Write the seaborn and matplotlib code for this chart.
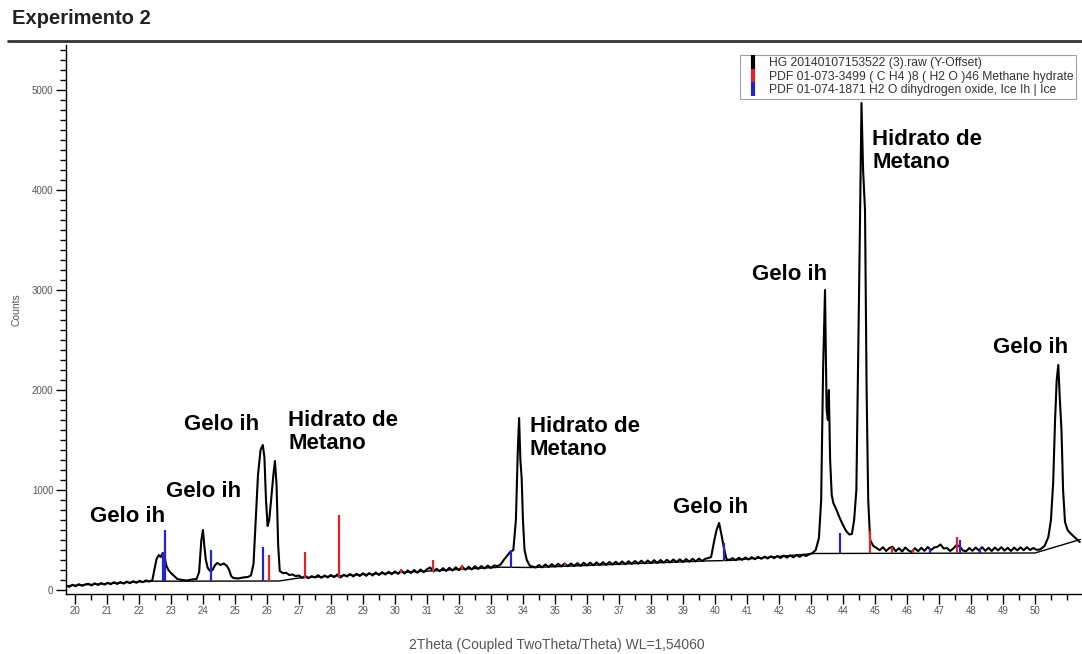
import numpy as np
import pandas as pd
import matplotlib
matplotlib.use("Agg")
import matplotlib.pyplot as plt
from matplotlib.lines import Line2D
from matplotlib.ticker import MultipleLocator
import seaborn as sns

# ---------------- data ----------------
# measured pattern, split into segments (2theta, counts)
theta_a = [19.72, 19.82, 19.92, 20.02, 20.12, 20.22, 20.32, 20.42, 20.52, 20.62, 20.72,
           20.82, 20.92, 21.02, 21.12, 21.22, 21.32, 21.42, 21.52, 21.62, 21.72, 21.82,
           21.92, 22.02, 22.12, 22.22, 22.32, 22.42]
counts_a = [45, 32, 52, 38, 58, 42, 56, 62, 46, 66, 50,
            70, 54, 72, 58, 78, 60, 80, 64, 84, 68, 88,
            72, 92, 78, 96, 84, 100]

theta_b = [22.48, 22.55, 22.62, 22.68, 22.74, 22.8, 22.86, 22.92, 23.0, 23.1, 23.2, 23.35,
           23.5, 23.65, 23.8, 23.88, 23.95, 24.0, 24.04, 24.09, 24.15, 24.22, 24.3, 24.38,
           24.45, 24.55, 24.65, 24.75, 24.82, 24.88, 24.95, 25.1, 25.25, 25.4, 25.5, 25.58,
           25.65, 25.72, 25.8, 25.87, 25.92, 25.97, 26.02, 26.07, 26.13, 26.2, 26.25, 26.3,
           26.35]
counts_b = [200, 310, 350, 330, 370, 330, 240, 200, 170, 140, 110, 100,
            95, 105, 110, 180, 500, 600, 450, 300, 220, 190, 200, 250,
            270, 250, 265, 240, 200, 140, 120, 115, 125, 130, 145, 260,
            700, 1150, 1400, 1450, 1330, 900, 640, 700, 900, 1150, 1290, 1050,
            450]

theta_c = [26.4, 26.5, 26.6, 26.7, 26.8, 26.9, 27.0, 27.1, 27.2, 27.3, 27.4, 27.5, 27.6,
           27.7, 27.8, 27.9, 28.0, 28.1, 28.2, 28.3, 28.4, 28.5, 28.6, 28.7, 28.8, 28.9,
           29.0, 29.1, 29.2, 29.3, 29.4, 29.5, 29.6, 29.7, 29.8, 29.9, 30.0, 30.1, 30.2,
           30.3, 30.4, 30.5, 30.6, 30.7, 30.8, 30.9, 31.0, 31.1, 31.2, 31.3, 31.4, 31.5,
           31.6, 31.7, 31.8, 31.9, 32.0, 32.1, 32.2, 32.3, 32.4, 32.5, 32.6, 32.7, 32.8,
           32.9, 33.0, 33.1, 33.2, 33.3]
counts_c = [190, 168, 172, 150, 155, 138, 145, 122, 140, 118, 138, 125, 148,
            122, 145, 126, 150, 128, 155, 125, 152, 135, 160, 135, 162, 140,
            168, 142, 170, 145, 175, 150, 178, 155, 182, 158, 186, 162, 195,
            165, 196, 170, 200, 172, 205, 178, 208, 225, 185, 212, 188, 218,
            190, 222, 195, 226, 198, 235, 202, 232, 206, 238, 210, 240, 215,
            244, 220, 246, 238, 255]

theta_d = [33.4, 33.5, 33.6, 33.7, 33.78, 33.84, 33.88, 33.92, 33.96, 34.0, 34.05, 34.12,
           34.22, 34.3]
counts_d = [300, 340, 380, 400, 700, 1400, 1720, 1300, 1120, 700, 400, 300,
            240, 235]

theta_e = [34.4, 34.5, 34.6, 34.7, 34.8, 34.9, 35.0, 35.1, 35.2, 35.3, 35.4, 35.5, 35.6,
           35.7, 35.8, 35.9, 36.0, 36.1, 36.2, 36.3, 36.4, 36.5, 36.6, 36.7, 36.8, 36.9,
           37.0, 37.1, 37.2, 37.3, 37.4, 37.5, 37.6, 37.7, 37.8, 37.9, 38.0, 38.1, 38.2,
           38.3, 38.4, 38.5, 38.6, 38.7, 38.8, 38.9, 39.0, 39.1, 39.2, 39.3, 39.4, 39.5,
           39.6, 39.7, 39.8]
counts_e = [225, 250, 226, 255, 230, 258, 233, 262, 236, 266, 238, 265, 240,
            268, 242, 272, 245, 273, 247, 276, 250, 278, 252, 280, 255, 282,
            257, 286, 258, 288, 262, 290, 264, 293, 266, 295, 269, 298, 271,
            300, 274, 302, 276, 305, 279, 307, 281, 309, 284, 312, 286, 314,
            290, 312, 320]

theta_f = [39.88, 39.97, 40.05, 40.13, 40.2, 40.28, 40.36]
counts_f = [330, 480, 600, 670, 560, 420, 310]

theta_g = [40.45, 40.55, 40.65, 40.75, 40.85, 40.95, 41.05, 41.15, 41.25, 41.35, 41.45,
           41.55, 41.65, 41.75, 41.85, 41.95, 42.05, 42.15, 42.25, 42.35, 42.45, 42.55,
           42.65, 42.75, 42.85, 42.95, 43.05]
counts_g = [300, 318, 298, 322, 302, 325, 305, 328, 308, 331, 312,
            334, 315, 337, 318, 340, 320, 343, 324, 346, 327, 349,
            332, 352, 340, 358, 370]

theta_h = [43.15, 43.25, 43.32, 43.38, 43.44, 43.49, 43.53, 43.56, 43.6, 43.65, 43.7,
           43.8, 43.9, 44.0, 44.1, 44.2, 44.28, 44.35, 44.42, 44.48, 44.53, 44.58,
           44.63, 44.69, 44.74, 44.79, 44.85]
counts_h = [400, 520, 900, 2200, 3000, 1800, 1700, 2000, 1300, 950, 870,
            800, 720, 650, 590, 555, 560, 700, 1000, 2400, 3600, 4870,
            4200, 3800, 2000, 900, 500]

theta_i = [44.95, 45.05, 45.15, 45.25, 45.35, 45.45, 45.55, 45.65, 45.75, 45.85, 45.95,
           46.05, 46.15, 46.25, 46.35, 46.45, 46.55, 46.65, 46.75, 46.85, 46.95, 47.05,
           47.15, 47.25, 47.35, 47.45, 47.55, 47.65, 47.75, 47.85, 47.95, 48.05, 48.15,
           48.25, 48.35, 48.45, 48.55, 48.65, 48.75, 48.85, 48.95, 49.05, 49.15, 49.25,
           49.35, 49.45, 49.55, 49.65, 49.75, 49.85, 49.95, 50.05, 50.16]
counts_i = [440, 420, 398, 428, 390, 420, 432, 388, 418, 385, 425,
            395, 380, 418, 388, 422, 392, 430, 398, 425, 432, 455,
            415, 420, 390, 415, 450, 435, 395, 388, 420, 392, 425,
            395, 428, 392, 422, 390, 425, 396, 428, 394, 422, 390,
            424, 396, 426, 398, 428, 400, 420, 402, 405]

theta_j = [50.3, 50.42, 50.5, 50.57, 50.63, 50.68, 50.73, 50.78, 50.83, 50.88, 50.94,
           51.02, 51.1, 51.2, 51.3, 51.4]
counts_j = [440, 530, 700, 1070, 1700, 2100, 2250, 1900, 1600, 1000, 680,
            600, 570, 540, 510, 480]

# background line
bg_theta = [19.72, 22.42, 26.38, 27.0, 33.3, 34.3, 39.7, 40.5, 43.1, 50.0, 51.42]
bg_counts = [42, 88, 90, 120, 228, 225, 290, 296, 365, 370, 505]

# reference patterns (sticks)
ice_pos = [22.74, 22.81, 24.25, 25.88, 33.63, 40.28, 43.91, 46.72, 47.66, 48.28]
ice_bottom = [90, 90, 90, 90, 225, 295, 367, 370, 375, 375]
ice_top = [380, 600, 400, 433, 400, 470, 567, 420, 500, 420]

hyd_pos = [26.06, 27.19, 28.26, 30.2, 31.2, 32.1, 35.3, 44.84, 45.52, 46.2, 47.55]
hyd_bottom = [90, 120, 125, 170, 180, 200, 240, 367, 367, 370, 372]
hyd_top = [355, 383, 750, 215, 300, 250, 270, 590, 430, 410, 530]

labels_text = ["Gelo ih", "Gelo ih", "Gelo ih", "Hidrato de\nMetano", "Hidrato de\nMetano",
               "Gelo ih", "Gelo ih", "Hidrato de\nMetano", "Gelo ih"]
labels_x = [20.47, 22.84, 23.41, 26.66, 34.22, 38.69, 41.16, 44.91, 48.69]
labels_y = [840, 1090, 1760, 1800, 1740, 930, 3260, 4610, 2530]

legend_labels = ["HG 20140107153522 (3).raw (Y-Offset)",
                 "PDF 01-073-3499 ( C H4 )8 ( H2 O )46 Methane hydrate",
                 "PDF 01-074-1871 H2 O dihydrogen oxide, Ice Ih | Ice"]

# ---------------- figure ----------------
sns.set_style("ticks")
plt.rcParams['font.family'] = ['Liberation Sans', 'DejaVu Sans']

W, H = 1082, 654
fig = plt.figure(figsize=(W / 100, H / 100), dpi=100)
ax = fig.add_axes([66 / W, 1 - 594 / H, (1081 - 66) / W, (594 - 45) / H])

BLUE = "#2424c8"
RED = "#e02424"

two_theta = (theta_a + theta_b + theta_c + theta_d + theta_e + theta_f + theta_g
             + theta_h + theta_i + theta_j)
counts = (counts_a + counts_b + counts_c + counts_d + counts_e + counts_f + counts_g
          + counts_h + counts_i + counts_j)
df = pd.DataFrame({"theta": two_theta, "counts": counts})
bg = pd.DataFrame({"theta": bg_theta, "counts": bg_counts})
sns.lineplot(data=df, x="theta", y="counts", color="black", lw=1.5, ax=ax,
             estimator=None, sort=False, zorder=3)
sns.lineplot(data=bg, x="theta", y="counts", color="black", lw=1.0, ax=ax,
             estimator=None, sort=False, zorder=2)
ax.vlines(ice_pos, ice_bottom, ice_top, colors=BLUE, lw=1.6, zorder=4)
ax.vlines(hyd_pos, hyd_bottom, hyd_top, colors=RED, lw=1.6, zorder=4)

for s, x, y in zip(labels_text, labels_x, labels_y):
    ax.text(x, y, s, fontsize=16, fontweight="bold", ha="left", va="top",
            linespacing=1.15, color="black", zorder=5)

ax.set_xlim(19.72, 51.44)
ax.set_ylim(-40, 5450)
ax.set_xticks(list(range(20, 51)))
ax.xaxis.set_minor_locator(MultipleLocator(0.5))
ax.set_yticks([0, 1000, 2000, 3000, 4000, 5000])
ax.yaxis.set_minor_locator(MultipleLocator(100))
ax.tick_params(axis="both", which="major", length=7, width=1, color="black",
               labelsize=7, labelcolor="#555555", direction="out", pad=2)
ax.tick_params(axis="both", which="minor", length=4, width=1, color="black",
               direction="out")
for side in ["top", "right"]:
    ax.spines[side].set_visible(False)
for side in ["left", "bottom"]:
    ax.spines[side].set_color("black")
    ax.spines[side].set_linewidth(1.0)
ax.set_xlabel("")
ax.set_ylabel("")

handles = [Line2D([], [], marker="|", linestyle="none", markersize=10,
                  markeredgewidth=3, color=c) for c in ["black", RED, BLUE]]
leg = ax.legend(handles, legend_labels, loc="upper right",
                bbox_to_anchor=(0.995, 0.982), fontsize=8.7, frameon=True,
                fancybox=False, edgecolor="#888888", borderpad=0.2,
                labelspacing=0.12, handlelength=1.6, handletextpad=0.55,
                borderaxespad=0)
leg.get_frame().set_linewidth(0.8)
for t in leg.get_texts():
    t.set_color("#333333")

fig.text(17 / W, 1 - 310 / H, "Counts", rotation=90, ha="center", va="center",
         fontsize=7.5, color="#555555")
fig.text(557 / W, 1 - 645 / H, "2Theta (Coupled TwoTheta/Theta) WL=1,54060",
         ha="center", va="center", fontsize=10, color="#555555")
fig.text(12 / W, 1 - 19 / H, "Experimento 2", ha="left", va="center",
         fontsize=14.5, fontweight="bold", color="#222222")
fig.add_artist(Line2D([8 / W, 1.0], [1 - 41 / H, 1 - 41 / H], color="#333333",
                      lw=2.0, transform=fig.transFigure))

fig.savefig("out.png", dpi=100)
